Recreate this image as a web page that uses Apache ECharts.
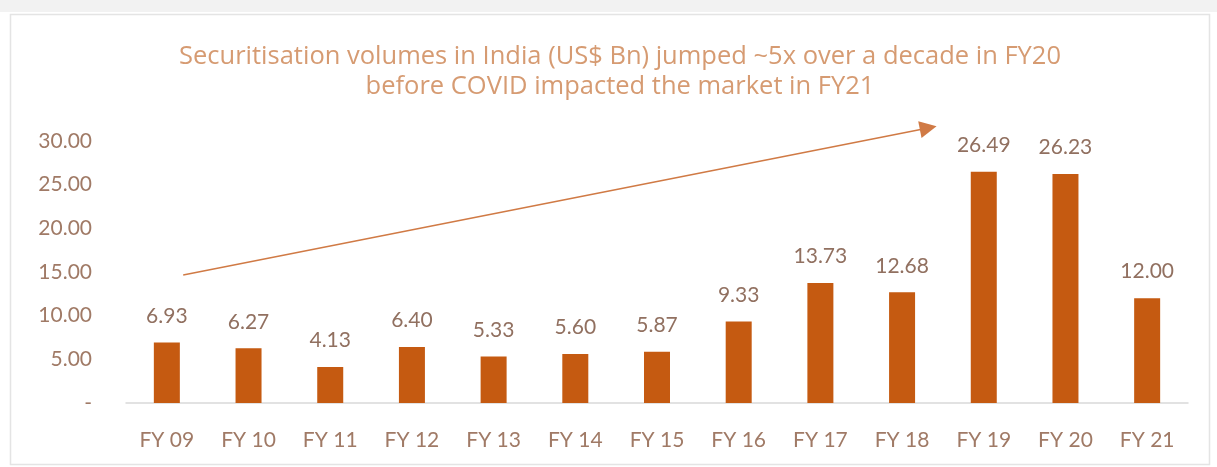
<!DOCTYPE html>
<html>
<head>
<meta charset="utf-8">
<script src="https://cdn.jsdelivr.net/npm/echarts@6/dist/echarts.min.js"></script>
<style>html,body{margin:0;padding:0;background:#fff}#c{width:1217px;height:467px}</style>
</head>
<body>
<div id="c"></div>
<script>
const categories = ['FY 09','FY 10','FY 11','FY 12','FY 13','FY 14','FY 15','FY 16','FY 17','FY 18','FY 19','FY 20','FY 21'];
const volumes = [6.93, 6.27, 4.13, 6.40, 5.33, 5.60, 5.87, 9.33, 13.73, 12.68, 26.49, 26.23, 12.00];
const yTicks = [0, 5, 10, 15, 20, 25, 30];
const titleLines = ['Securitisation volumes in India (US$ Bn) jumped ~5x over a decade in FY20', 'before COVID impacted the market in FY21'];
// trend arrow, in (category index, value) units
const arrowStart = [0.2, 14.66];
const arrowEnd = [9.32, 31.5];

const FONT = 'Lato';
const chart = echarts.init(document.getElementById('c'), null, {renderer: 'canvas'});
chart.setOption({
  animation: false,
  backgroundColor: '#ffffff',
  graphic: [
    {type: 'rect', left: 0, top: 0, shape: {width: 1217, height: 12}, style: {fill: '#f2f2f2'}, silent: true, z: -10},
    {type: 'rect', left: 8, top: 12, shape: {width: 1199, height: 450}, style: {fill: 'none', stroke: '#e4e4e4', lineWidth: 1.5}, silent: true, z: -10}
  ],
  title: {
    text: titleLines.join('\n'),
    left: 615, top: 37, textAlign: 'center',
    textStyle: {fontFamily: 'Open Sans', fontSize: 25.5, fontWeight: 'normal', color: '#d69b72', lineHeight: 30}
  },
  grid: {left: 126, right: 29, top: 141, bottom: 64, containLabel: false},
  xAxis: [{
    type: 'category', data: categories,
    axisLine: {lineStyle: {color: '#d9d9d9', width: 1.5}},
    axisTick: {show: false},
    axisLabel: {fontFamily: FONT, fontSize: 21, color: '#a07a66', margin: 27}
  }, {
    type: 'value', min: -0.5, max: 12.5, show: false
  }],
  yAxis: {
    type: 'value', min: yTicks[0], max: yTicks[yTicks.length - 1], interval: yTicks[1] - yTicks[0],
    splitLine: {show: false}, axisLine: {show: false}, axisTick: {show: false},
    axisLabel: {
      fontFamily: FONT, fontSize: 21, color: '#a07a66', margin: 34,
      formatter: v => v === 0 ? '-' : v.toFixed(2)
    }
  },
  series: [{
    type: 'bar', data: volumes, barWidth: 26,
    itemStyle: {color: '#c55a11'},
    label: {
      show: true, position: 'top', distance: 16,
      fontFamily: FONT, fontSize: 21, color: '#917060',
      formatter: p => p.value.toFixed(2)
    }
  }, {
    type: 'lines', coordinateSystem: 'cartesian2d', xAxisIndex: 1, yAxisIndex: 0,
    clip: false, silent: true,
    symbol: ['none', 'triangle'], symbolSize: [0, 17],
    lineStyle: {color: '#d07a45', width: 1.5, opacity: 1},
    data: [{coords: [arrowStart, arrowEnd]}]
  }]
});
</script>
</body>
</html>
